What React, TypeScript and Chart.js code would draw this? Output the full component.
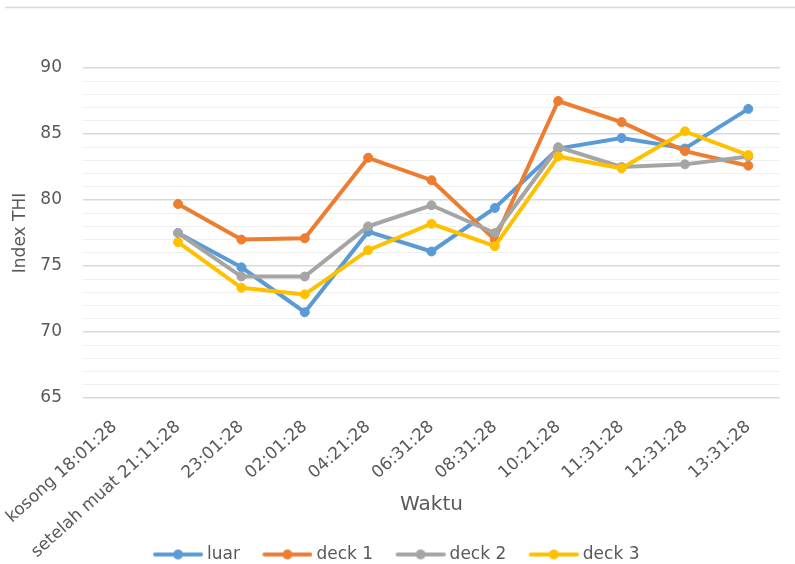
import React, { useEffect, useRef } from "react";
import { Chart, registerables } from "chart.js";

Chart.register(...registerables);

const categories = [
  "kosong 18:01:28",
  "setelah muat 21:11:28",
  "23:01:28",
  "02:01:28",
  "04:21:28",
  "06:31:28",
  "08:31:28",
  "10:21:28",
  "11:31:28",
  "12:31:28",
  "13:31:28",
];
const luar = [null, 77.5, 74.9, 71.5, 77.6, 76.1, 79.4, 83.9, 84.7, 83.9, 86.9];
const deck1 = [null, 79.7, 77.0, 77.1, 83.2, 81.5, 77.0, 87.5, 85.9, 83.7, 82.6];
const deck2 = [null, 77.5, 74.2, 74.2, 78.0, 79.6, 77.5, 84.0, 82.5, 82.7, 83.3];
const deck3 = [null, 76.8, 73.35, 72.85, 76.2, 78.2, 76.5, 83.3, 82.4, 85.2, 83.4];
const seriesNames = ["luar", "deck 1", "deck 2", "deck 3"];
const seriesColors = ["#5B9BD5", "#ED7D31", "#A5A5A5", "#FFC000"];
const yMin = 65;
const yMax = 90;
const xTitle = "Waktu";
const yTitle = "Index THI";

const FONT = "'DejaVu Sans', sans-serif";
const TEXT = "#595959";

function legendIcon(color: string): HTMLCanvasElement {
  const c = document.createElement("canvas");
  c.width = 61;
  c.height = 12;
  const ctx = c.getContext("2d")!;
  ctx.strokeStyle = color;
  ctx.lineWidth = 4;
  ctx.lineCap = "round";
  ctx.beginPath();
  ctx.moveTo(13, 6);
  ctx.lineTo(59, 6);
  ctx.stroke();
  ctx.fillStyle = color;
  ctx.beginPath();
  ctx.arc(36, 6, 5, 0, Math.PI * 2);
  ctx.fill();
  return c;
}

const topLine = {
  id: "topLine",
  beforeDraw(chart: any) {
    const ctx = chart.ctx;
    ctx.save();
    ctx.strokeStyle = "#d9d9d9";
    ctx.lineWidth = 1.5;
    ctx.beginPath();
    ctx.moveTo(5, 7.5);
    ctx.lineTo(chart.width, 7.5);
    ctx.stroke();
    ctx.restore();
  },
};

export default function App() {
  const ref = useRef<HTMLCanvasElement>(null);
  useEffect(() => {
    const all = [luar, deck1, deck2, deck3];
    const icons = seriesColors.map(legendIcon);
    const chart = new Chart(ref.current!, {
      type: "line",
      data: {
        labels: categories,
        datasets: all.map((d, i) => ({
          label: seriesNames[i],
          data: d,
          borderColor: seriesColors[i],
          backgroundColor: seriesColors[i],
          borderWidth: 4,
          pointRadius: 4.5,
          pointBorderWidth: 1,
          pointBackgroundColor: seriesColors[i],
          pointBorderColor: seriesColors[i],
          tension: 0,
          order: 3 - i,
        })),
      },
      options: {
        animation: false,
        responsive: false,
        devicePixelRatio: 1,
        layout: { padding: { top: 68, left: 6, right: 15, bottom: 0 } },
        plugins: {
          tooltip: { enabled: false },
          legend: {
            position: "bottom",
            labels: {
              usePointStyle: true,
              pointStyleWidth: 52,
              padding: 16,
              color: TEXT,
              font: { family: FONT, size: 17 },
              sort: (a: any, b: any) => a.datasetIndex - b.datasetIndex,
              generateLabels: (c: any) => {
                const items = Chart.defaults.plugins.legend.labels.generateLabels(c);
                return items.map((it: any) => ({ ...it, pointStyle: icons[it.datasetIndex] }));
              },
            },
          },
        },
        scales: {
          x: {
            offset: true,
            grid: { display: false, drawTicks: false },
            border: { display: false },
            ticks: {
              minRotation: 42,
              maxRotation: 42,
              autoSkip: false,
              padding: 19,
              color: TEXT,
              font: { family: FONT, size: 17 },
            },
            title: {
              display: true,
              text: xTitle,
              color: TEXT,
              font: { family: FONT, size: 20 },
              padding: { top: 0, bottom: 13 },
            },
            afterFit: (s: any) => {
              s.height = 132;
              s.paddingLeft = 0;
              s.paddingRight = 0;
              s._computeLabelArea = () => undefined;
            },
          },
          y: {
            min: yMin,
            max: yMax,
            border: { display: false },
            grid: {
              drawTicks: false,
              color: (c: any) => (c.tick && c.tick.value % 5 === 0 ? "#d9d9d9" : "#efefef"),
              lineWidth: (c: any) => (c.tick && c.tick.value % 5 === 0 ? 1.5 : 1),
            },
            ticks: {
              stepSize: 1,
              autoSkip: false,
              padding: 21,
              color: TEXT,
              font: { family: FONT, size: 17 },
              callback: (v: any) => (Number(v) % 5 === 0 ? String(v) : ""),
            },
            title: {
              display: true,
              text: yTitle,
              color: TEXT,
              font: { family: FONT, size: 17 },
              padding: { top: 4, bottom: 4 },
            },
            afterFit: (s: any) => {
              s.width = 77;
            },
          },
        },
      },
      plugins: [topLine],
    });
    return () => chart.destroy();
  }, []);
  return (
    <div
      style={{
        position: "fixed",
        left: 0,
        top: 0,
        width: 795,
        height: 564,
        overflow: "hidden",
        background: "#fff",
      }}
    >
      <canvas ref={ref} width={795} height={573} style={{ display: "block" }} />
    </div>
  );
}
